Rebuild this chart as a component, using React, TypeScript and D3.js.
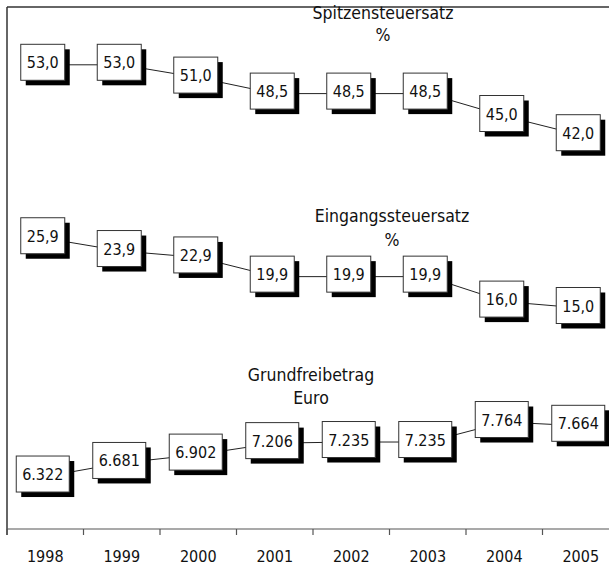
import React from 'react';
import * as d3 from 'd3';

const years = ['1998', '1999', '2000', '2001', '2002', '2003', '2004', '2005'];
const spitzensteuersatz = [53.0, 53.0, 51.0, 48.5, 48.5, 48.5, 45.0, 42.0];
const eingangssteuersatz = [25.9, 23.9, 22.9, 19.9, 19.9, 19.9, 16.0, 15.0];
const grundfreibetrag = [6322, 6681, 6902, 7206, 7235, 7235, 7764, 7664];

const spitzenTitle = ['Spitzensteuersatz', '%'];
const eingangTitle = ['Eingangssteuersatz', '%'];
const grundTitle = ['Grundfreibetrag', 'Euro'];

const W = 609;
const H = 568;
const FONT = '"DejaVu Sans Condensed", "DejaVu Sans", sans-serif';

const de = d3.formatLocale({ decimal: ',', thousands: '.', grouping: [3], currency: ['', ' €'] });
const fmtPct = de.format('.1f');
const fmtEuro = de.format(',.0f');

function Series ({ values, x, y, fmt }) {
	const pts = values.map((v, i) => [x(years[i]) + x.bandwidth() / 2, y(v)]);
	const line = d3.line();
	return (
		<g>
			<path d={line(pts)} fill="none" stroke="#222" strokeWidth={1} />
			{values.map((v, i) => {
				const label = fmt(v);
				const bw = label.length * 9 + 8;
				const bh = 36;
				const cx = pts[i][0] - 2.5;
				const cy = pts[i][1] - 2.5;
				return (
					<g key={i}>
						<rect x={cx - bw / 2 + 5} y={cy - bh / 2 + 5} width={bw} height={bh} fill="#000" />
						<rect x={cx - bw / 2} y={cy - bh / 2} width={bw} height={bh} fill="#fff" stroke="#333" strokeWidth={1} />
						<text x={cx} y={cy + 6} textAnchor="middle" fontSize={16} fontFamily={FONT} fill="#111">{label}</text>
					</g>
				);
			})}
		</g>
	);
}

function Title ({ lines, cx, y0, gap }) {
	return (
		<g fontFamily={FONT} fontSize={17.5} fill="#111" textAnchor="middle">
			{lines.map((t, i) => <text key={i} x={cx} y={y0 + i * gap}>{t}</text>)}
		</g>
	);
}

export default function App () {
	const x = d3.scaleBand().domain(years).range([7, 619]);
	const pctY = d3.scaleLinear().domain([0, 60]).range([404, 20]);
	const euroY = d3.scaleLinear().domain([6000, 8000]).range([488.7, 413.1]);
	const axisY = 529;
	const ticks = years.map(d => x(d)).concat([x(years[years.length - 1]) + x.bandwidth()]);

	return (
		<svg width={W} height={H} style={{ position: 'absolute', left: 0, top: 0, background: '#fff' }}>
			{/* frame */}
			<line x1={7} x2={W} y1={7} y2={7} stroke="#333" strokeWidth={1.5} />
			<line x1={7} x2={7} y1={7} y2={axisY + 6} stroke="#333" strokeWidth={1.5} />
			<line x1={7} x2={W} y1={axisY} y2={axisY} stroke="#555" strokeWidth={1.2} />
			{ticks.map((t, i) => <line key={i} x1={t} x2={t} y1={axisY} y2={axisY + 6} stroke="#555" strokeWidth={1.2} />)}
			{years.map(d => (
				<text key={d} x={x(d) + x.bandwidth() / 2} y={562} textAnchor="middle" fontSize={16} fontFamily={FONT} fill="#111">{d}</text>
			))}

			<Title lines={spitzenTitle} cx={383} y0={19} gap={22} />
			<Title lines={eingangTitle} cx={392} y0={222} gap={24} />
			<Title lines={grundTitle} cx={311} y0={381} gap={23} />

			<Series values={spitzensteuersatz} x={x} y={pctY} fmt={fmtPct} />
			<Series values={eingangssteuersatz} x={x} y={pctY} fmt={fmtPct} />
			<Series values={grundfreibetrag} x={x} y={euroY} fmt={fmtEuro} />
		</svg>
	);
}
